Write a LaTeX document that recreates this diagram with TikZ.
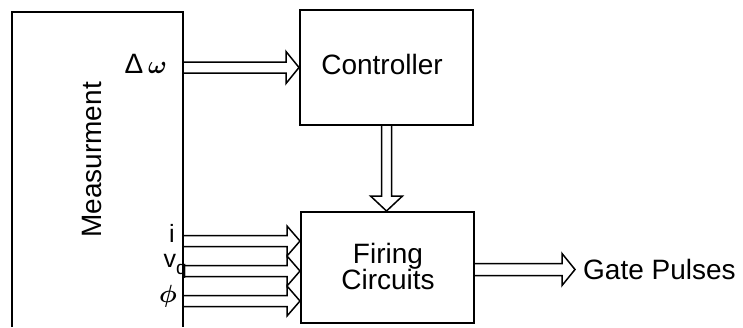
\documentclass[tikz,border=0pt]{standalone}
\usepackage{amsmath}
\usepackage{fontspec}
\setmainfont{Liberation Sans}
\usetikzlibrary{calc}
\tikzset{
  box/.style={draw, line width=2pt, minimum width=#1, inner sep=0pt},
  lbl/.style={inner sep=0pt, font=\fontsize{28}{26.5}\selectfont},
  small/.style={inner sep=0pt, font=\fontsize{25}{25}\selectfont},
  arr/.style={line width=1.5pt, line join=miter},
}
% horizontal hollow arrow: start, end, shaft half-width, head half-width
\newcommand\harr[4]{\draw[arr] let \p1=#1, \p2=#2 in
  (\x1,\y1+#3) -- (\x2-13pt,\y1+#3) -- (\x2-13pt,\y1+#4) -- (\x2,\y1)
  -- (\x2-13pt,\y1-#4) -- (\x2-13pt,\y1-#3) -- (\x1,\y1-#3);}
% vertical hollow arrow (downwards)
\newcommand\varr[4]{\draw[arr] let \p1=#1, \p2=#2 in
  (\x1-#3,\y1) -- (\x1-#3,\y2+15pt) -- (\x1-#4,\y2+15pt) -- (\x1,\y2)
  -- (\x1+#4,\y2+15pt) -- (\x1+#3,\y2+15pt) -- (\x1+#3,\y1);}
\begin{document}
\begin{tikzpicture}[x=1pt,y=-1pt]
\useasboundingbox (0,0) rectangle (743,327);
% nodes
\node[inner sep=0pt, minimum width=171pt, minimum height=315pt] (meas) at (97.5,169.5) {};
\node[box=173pt, minimum height=115pt] (ctrl) at (386.5,67.5) {};
\node[box=173pt, minimum height=111pt] (fire) at (387.5,267.5) {};
\node[lbl, anchor=base] (ctrltxt) at (382,74) {Controller};
\node[lbl, align=center, anchor=north] (firetxt) at (388,243) {Firing\\Circuits};
\node[lbl, rotate=90] (meastxt) at (92,160) {Measurment};
\node[lbl, anchor=base east] (dw) at (167,73) {Δ\,$\boldsymbol{\omega}$};
\node[small, anchor=base east] (li) at (175,242) {i};
\node[small, anchor=base east] (lv) at (187,267) {v\raisebox{-7pt}{\fontsize{19}{19}\selectfont q}};
\node[lbl, anchor=base east] (lp) at (177,302) {$\boldsymbol{\phi}$};
\node[lbl, anchor=base west] (gate) at (583,279) {Gate Pulses};
\coordinate (c1) at (183,241);
\coordinate (c2) at (183,271);
\coordinate (c3) at (183,301);
% measurement box (open bottom)
\draw[line width=2pt] (meas.south west) -- (meas.north west) -- (meas.north east) -- (meas.south east);
% arrows
\harr{(meas.east |- ctrl.west)}{(ctrl.west)}{5.5pt}{16pt}
\varr{(ctrl.south)}{(fire.north)}{5pt}{16pt}
\harr{(c1)}{(fire.west |- c1)}{5.5pt}{15pt}
\harr{(c2)}{(fire.west |- c2)}{5.5pt}{15pt}
\harr{(c3)}{(fire.west |- c3)}{5.5pt}{15pt}
\coordinate (g1) at ($(fire.east)+(0,2)$);
\coordinate (g2) at (575,269.5);
\harr{(g1)}{(g2)}{6pt}{16pt}
\end{tikzpicture}
\end{document}
